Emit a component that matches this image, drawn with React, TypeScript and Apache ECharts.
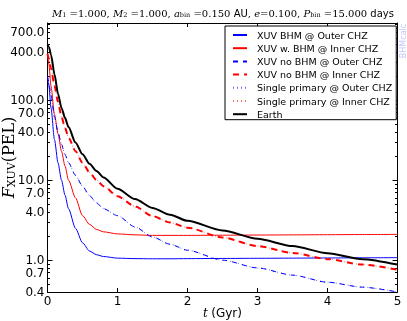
import React, { useEffect, useRef } from 'react';
import * as echarts from 'echarts';

// Time grid (Gyr)
const T = [0, 0.02, 0.05, 0.1, 0.15, 0.2, 0.25, 0.3, 0.4, 0.5, 0.6, 0.7, 0.8, 1.0, 1.25, 1.5, 1.75, 2.0, 2.5, 3.0, 3.5, 4.0, 4.5, 5.0];

// F_XUV (PEL)
const bhmOuter = [200, 150, 80, 32, 16.5, 10, 6.5, 4.4, 2.5, 1.65, 1.3, 1.17, 1.11, 1.06, 1.045, 1.04, 1.04, 1.045, 1.05, 1.055, 1.06, 1.065, 1.07, 1.075];
const bhmInner = [380, 280, 150, 66, 38, 23, 15, 10, 6.0, 3.6, 2.8, 2.42, 2.26, 2.13, 2.07, 2.04, 2.04, 2.04, 2.05, 2.06, 2.07, 2.08, 2.09, 2.1];
const noBhmOuter = [200, 165, 115, 62, 40, 28, 21, 16.5, 11.5, 8.4, 6.4, 5.2, 4.4, 3.6, 2.6, 1.95, 1.58, 1.33, 1.0, 0.8, 0.65, 0.53, 0.46, 0.4];
const noBhmInner = [380, 330, 250, 150, 95, 62, 45, 34, 23, 16.5, 12.5, 10, 8.4, 6.3, 4.7, 3.55, 2.95, 2.55, 1.92, 1.5, 1.23, 1.03, 0.88, 0.76];
const singleOuter = noBhmOuter;
const singleInner = noBhmInner;
const earth = [490, 460, 370, 210, 120, 80, 60, 46, 29.5, 21, 16, 13, 10.8, 7.8, 5.8, 4.5, 3.7, 3.1, 2.35, 1.85, 1.5, 1.22, 1.03, 0.88];

const seriesNames = [
  'XUV BHM @ Outer CHZ',
  'XUV w. BHM @ Inner CHZ',
  'XUV no BHM @ Outer CHZ',
  'XUV no BHM @ Inner CHZ',
  'Single primary @ Outer CHZ',
  'Single primary @ Inner CHZ',
  'Earth',
];

const yTickLabels = [0.4, 0.7, 1, 4, 7, 10, 40, 70, 100, 400, 700];
const yMajorTicks = [1, 10, 100];
const yMinorTicks = [0.4, 0.5, 0.6, 0.7, 0.8, 0.9, 2, 3, 4, 5, 6, 7, 8, 9, 20, 30, 40, 50, 60, 70, 80, 90, 200, 300, 400, 500, 600, 700, 800, 900];
const Y_MIN = 0.4;
const Y_MAX = 920;
const X_MIN = 0;
const X_MAX = 5;

const lg = (v: number) => Math.log10(v);

export default function App() {
  const ref = useRef<HTMLDivElement>(null);

  useEffect(() => {
    const chart = echarts.init(ref.current!, undefined, { renderer: 'svg' });
    const toData = (vals: number[]) => T.map((t, i) => [t, lg(vals[i])]);
    const mk = (name: string, vals: number[], color: string, width: number, type: any, opacity = 1) => ({
      name,
      type: 'line',
      data: toData(vals),
      symbol: 'none',
      showSymbol: false,
      smooth: 0.25,
      smoothMonotone: 'x',
      silent: true,
      lineStyle: { color, width, type, opacity },
      itemStyle: { color },
    });

    const serifI = { fontFamily: 'DejaVu Serif', fontStyle: 'italic' };
    const serif = { fontFamily: 'DejaVu Serif' };
    const sans = { fontFamily: 'DejaVu Sans' };

    const yBase = {
      type: 'value',
      min: lg(Y_MIN),
      max: lg(Y_MAX),
      splitLine: { show: false },
    };

    const option: any = {
      animation: false,
      grid: { left: 47.5, right: 9.5, top: 23, bottom: 29, containLabel: false, outerBoundsMode: 'none' },
      legend: {
        orient: 'vertical',
        left: 225,
        top: 26,
        padding: [3.5, 4, 0, 7],
        itemWidth: 14,
        itemHeight: 11,
        itemGap: 2.2,
        backgroundColor: '#fff',
        borderColor: '#000',
        borderWidth: 1,
        borderRadius: 0,
        selectedMode: false,
        itemStyle: { opacity: 0, borderWidth: 0 },
        textStyle: { fontFamily: 'DejaVu Sans', fontSize: 9.5, color: '#000', padding: [0, 0, 0, 5], lineHeight: 11 },
        data: seriesNames,
      },
      xAxis: [
        {
          type: 'value',
          position: 'bottom',
          min: X_MIN,
          max: X_MAX,
          interval: 1,
          axisLine: { show: true, onZero: false, lineStyle: { color: '#000', width: 1 } },
          axisTick: { show: true, inside: true, length: 4, lineStyle: { color: '#000' } },
          axisLabel: { fontSize: 12, fontFamily: 'DejaVu Sans', color: '#000', margin: 3, lineHeight: 12 },
          splitLine: { show: false },
          name: '{i|t} {n|(Gyr)}',
          nameLocation: 'middle',
          nameGap: 14,
          nameMoveOverlap: false,
          nameTextStyle: {
            color: '#000',
            rich: {
              i: { ...serifI, fontSize: 12, color: '#000', lineHeight: 14 },
              n: { ...sans, fontSize: 12, color: '#000', lineHeight: 14 },
            },
          },
        },
        {
          type: 'value',
          position: 'top',
          min: X_MIN,
          max: X_MAX,
          interval: 1,
          axisLine: { show: true, onZero: false, lineStyle: { color: '#000', width: 1 } },
          axisTick: { show: true, inside: true, length: 4, lineStyle: { color: '#000' } },
          axisLabel: { show: false },
          splitLine: { show: false },
        },
      ],
      yAxis: [
        {
          ...yBase,
          position: 'left',
          axisLine: { show: true, onZero: false, lineStyle: { color: '#000', width: 1 } },
          axisTick: { show: true, inside: true, length: 5, customValues: yMajorTicks.map(lg), lineStyle: { color: '#000' } },
          axisLabel: {
            customValues: yTickLabels.map(lg),
            formatter: (v: number) => Math.pow(10, v).toFixed(1),
            fontSize: 12,
            lineHeight: 11,
            fontFamily: 'DejaVu Sans',
            color: '#000',
            margin: 3,
          },
          name: '{i|F}{s|XUV}{r|(PEL)}',
          nameLocation: 'middle',
          nameGap: 30.5,
          nameMoveOverlap: false,
          nameTextStyle: {
            color: '#000',
            rich: {
              i: { ...serifI, fontSize: 16, color: '#000' },
              s: { ...serif, fontSize: 11, color: '#000', verticalAlign: 'bottom', padding: [6, 0, 0, 0] },
              r: { ...serif, fontSize: 16, color: '#000' },
            },
          },
        },
        {
          ...yBase,
          position: 'left',
          axisLine: { show: false, onZero: false },
          axisTick: { show: true, inside: true, length: 2.5, customValues: yMinorTicks.map(lg), lineStyle: { color: '#000' } },
          axisLabel: { show: false },
        },
        {
          ...yBase,
          position: 'right',
          axisLine: { show: true, onZero: false, lineStyle: { color: '#000', width: 1 } },
          axisTick: { show: true, inside: true, length: 5, customValues: yMajorTicks.map(lg), lineStyle: { color: '#000' } },
          axisLabel: { show: false },
        },
        {
          ...yBase,
          position: 'right',
          axisLine: { show: false, onZero: false },
          axisTick: { show: true, inside: true, length: 2.5, customValues: yMinorTicks.map(lg), lineStyle: { color: '#000' } },
          axisLabel: { show: false },
        },
      ],
      series: [
        mk(seriesNames[0], bhmOuter, '#0000ff', 1, 'solid'),
        mk(seriesNames[1], bhmInner, '#ff0000', 1, 'solid'),
        mk(seriesNames[2], noBhmOuter, '#0000ff', 1, [5, 5]),
        mk(seriesNames[3], noBhmInner, '#ff0000', 2, [6, 5]),
        mk(seriesNames[4], singleOuter, '#0000ff', 1, [1, 3], 0.6),
        mk(seriesNames[5], singleInner, '#ff0000', 1, [1, 3], 0.6),
        mk(seriesNames[6], earth, '#000000', 2, 'solid'),
      ],
      graphic: [
        {
          type: 'text',
          x: 223,
          y: 13,
          silent: true,
          style: {
            text:
              '{i|M}{s|1}{r| =1.000, }{i|M}{s|2}{r| =1.000, }{i|a}{s|bin}{r| =0.150 }{n|AU}{r|, }{i|e}{r|=0.100, }{i|P}{s|bin}{r| =15.000 }{n|days}',
            align: 'center',
            verticalAlign: 'middle',
            rich: {
              i: { ...serifI, fontSize: 10, fill: '#000' },
              r: { ...serif, fontSize: 10, fill: '#000' },
              s: { ...serif, fontSize: 6.5, fill: '#000', verticalAlign: 'bottom' },
              n: { ...sans, fontSize: 10, fill: '#000' },
            },
          },
        },
        {
          type: 'text',
          x: 403,
          y: 41,
          rotation: Math.PI / 2,
          silent: true,
          style: {
            text: 'BHMcalc',
            fontFamily: 'DejaVu Sans',
            fontSize: 8,
            fill: '#c4c4ff',
            align: 'center',
            verticalAlign: 'middle',
          },
        },
      ],
    };

    chart.setOption(option);
    return () => chart.dispose();
  }, []);

  return <div ref={ref} style={{ position: 'fixed', left: 0, top: 0, width: 407, height: 321 }} />;
}
